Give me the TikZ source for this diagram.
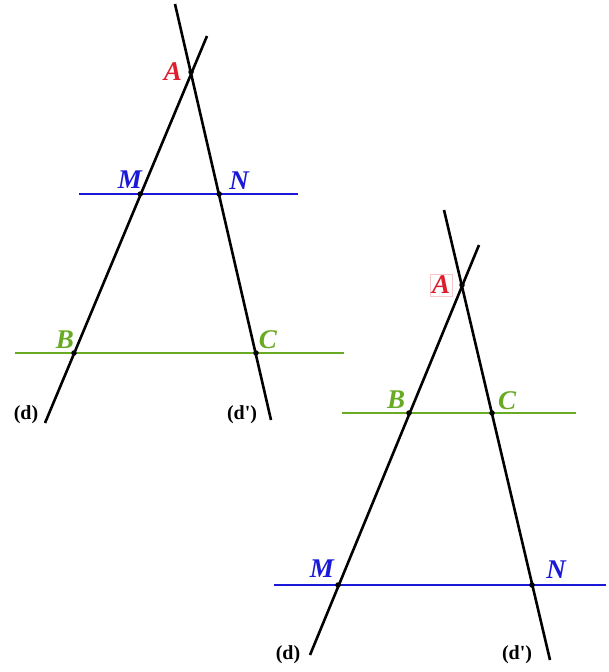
\documentclass[tikz,border=0pt]{standalone}
\usepackage{fontspec}
\setmainfont{Liberation Serif}
\definecolor{ptred}{RGB}{222,30,45}
\definecolor{ptblue}{RGB}{25,25,215}
\definecolor{ptgreen}{RGB}{105,170,35}
\tikzset{
  lineblack/.style={black, line width=2.6pt},
  blueline/.style={ptblue, line width=2.8pt},
  greenline/.style={ptgreen, line width=2.8pt},
  ptdot/.style={circle, fill=black, inner sep=0pt, minimum size=5.5pt},
  lab/.style={font=\fontsize{27}{27}\selectfont\bfseries\itshape, inner sep=0pt},
  dlab/.style={font=\fontsize{20}{20}\selectfont\bfseries, inner sep=0pt}
}
\begin{document}
\begin{tikzpicture}[x=1pt,y=-1pt]
\useasboundingbox (0,0) rectangle (609,672);
% ---------- left figure ----------
\coordinate (LdT) at (207,36);
\coordinate (LdB) at (45,423);
\coordinate (LeT) at (175,4);
\coordinate (LeB) at (271,420);
\coordinate (LA) at (191,72);
\coordinate (LM) at (140.2,194);
\coordinate (LN) at (219.2,194);
\coordinate (LB) at (74,353);
\coordinate (LC) at (256,353);
\coordinate (LMNl) at (79,194);
\coordinate (LMNr) at (298,194);
\coordinate (LBCl) at (15,353);
\coordinate (LBCr) at (344,353);
\draw[blueline] (LMNl) -- (LMNr);
\draw[greenline] (LBCl) -- (LBCr);
\draw[lineblack] (LdT) -- (LdB);
\draw[lineblack] (LeT) -- (LeB);
\foreach \p in {LA,LM,LN,LB,LC} \node[ptdot] at (\p) {};
\node[lab, text=ptred] (lA) at (173,72) {A};
\node[lab, text=ptblue] (lM) at (130,180) {M};
\node[lab, text=ptblue] (lN) at (239,181) {N};
\node[lab, text=ptgreen] (lB) at (65,340) {B};
\node[lab, text=ptgreen] (lC) at (268,340) {C};
\node[dlab] (ld) at (26,415) {(d)};
\node[dlab] (le) at (242,415) {(d\textquotesingle)};
% ---------- right figure ----------
\coordinate (RdT) at (479,245);
\coordinate (RdB) at (310,655);
\coordinate (ReT) at (444,210);
\coordinate (ReB) at (550,660);
\coordinate (RA) at (462,285);
\coordinate (RB) at (409,413);
\coordinate (RC) at (492,413);
\coordinate (RM) at (338,585);
\coordinate (RN) at (532,585);
\coordinate (RBCl) at (342,413);
\coordinate (RBCr) at (576,413);
\coordinate (RMNl) at (274,585);
\coordinate (RMNr) at (606,585);
\draw[greenline] (RBCl) -- (RBCr);
\draw[blueline] (RMNl) -- (RMNr);
\draw[lineblack] (RdT) -- (RdB);
\draw[lineblack] (ReT) -- (ReB);
\foreach \p in {RA,RB,RC,RM,RN} \node[ptdot] at (\p) {};
\node[lab, text=ptred, draw=ptred!25, line width=0.7pt, inner sep=2pt] (rA) at (441,285) {A};
\node[lab, text=ptgreen] (rB) at (396,400) {B};
\node[lab, text=ptgreen] (rC) at (507,401) {C};
\node[lab, text=ptblue] (rM) at (322,569) {M};
\node[lab, text=ptblue] (rN) at (556,570) {N};
\node[dlab] (rd) at (288,655) {(d)};
\node[dlab] (re) at (517,655) {(d\textquotesingle)};
\end{tikzpicture}
\end{document}
